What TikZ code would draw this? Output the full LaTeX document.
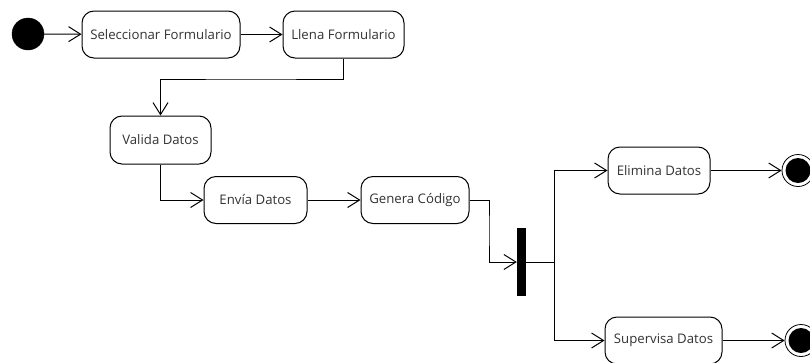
\documentclass[tikz,border=0pt]{standalone}
\usepackage{fontspec}
\setmainfont{Open Sans}
\usetikzlibrary{arrows.meta}
\tikzset{
  activity/.style={draw=black, line width=1pt, rounded corners=12pt, fill=white,
    minimum height=47pt, inner sep=0pt, font=\fontsize{13.2}{15}\selectfont, text=black!80},
  flow/.style={draw=black, line width=1pt,
    -{Straight Barb[length=12pt, width=15pt, line width=1pt]}},
  plain/.style={draw=black, line width=1pt},
  initial/.style={circle, fill=black, draw=black, minimum size=32pt, inner sep=0pt},
  final/.style={circle, draw=black, line width=0.8pt, fill=white, minimum size=32pt, inner sep=0pt,
    path picture={\fill[black] (path picture bounding box.center) circle (12.5pt);}},
  forkbar/.style={fill=black, minimum width=9pt, minimum height=68pt, inner sep=0pt}
}
\begin{document}
\begin{tikzpicture}[x=1pt, y=-1pt]
  \useasboundingbox (0,0) rectangle (810,362);

  % nodes
  \node[initial] (start) at (28,34) {};
  \node[activity, minimum width=158pt] (sel) at (161,34.5) {Seleccionar Formulario};
  \node[activity, minimum width=121pt] (llena) at (343.5,34.5) {Llena Formulario};
  \node[activity, minimum width=101pt, minimum height=48pt] (valida) at (160.5,140) {Valida Datos};
  \node[activity, minimum width=103pt] (envia) at (255.5,200) {Envía Datos};
  \node[activity, minimum width=108pt] (genera) at (415,200) {Genera Código};
  \node[forkbar] (bar) at (521.5,262) {};
  \node[activity, minimum width=102pt] (elimina) at (659,170.5) {Elimina Datos};
  \node[activity, minimum width=117pt] (supervisa) at (663.5,340.5) {Supervisa Datos};
  \node[final] (end1) at (798,170.5) {};
  \node[final] (end2) at (801,340.5) {};

  % bend points
  \coordinate (k1) at (250,79);
  \coordinate (k2) at (489,230);
  \coordinate (k3) at (554,262);

  % connectors
  \draw[flow] (start) -- (sel);
  \draw[flow] (sel) -- (llena);
  \draw[flow] (llena.south) |- (k1) -| (valida.north);
  \draw[flow] (valida.south) |- (envia.west);
  \draw[flow] (envia) -- (genera);
  \draw[flow] (genera.east) -| (k2) |- (bar.west);
  \draw[plain] (bar.east) -- (k3);
  \draw[flow] (k3) |- (elimina.west);
  \draw[flow] (k3) |- (supervisa.west);
  \draw[flow] (elimina) -- (end1);
  \draw[flow] (supervisa) -- (end2);
\end{tikzpicture}
\end{document}
